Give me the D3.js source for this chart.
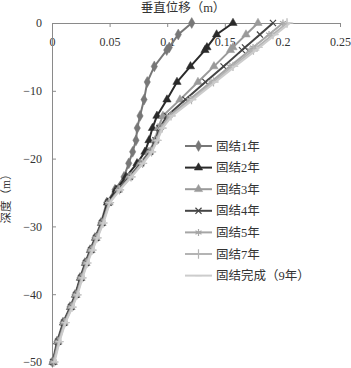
<!DOCTYPE html>
<html>
<head>
<meta charset="utf-8">
<script src="https://cdn.jsdelivr.net/npm/d3@7"></script>
<style>
  body { margin: 0; background: #fff; }
</style>
</head>
<body>
<script>
var depths = [0, -1.7, -3.6, -4.0, -6.4, -8.7, -11.3, -13.7, -15.5, -17.3, -19.0, -20.7, -22.7,
  -24.6, -26.5, -29.5, -31.7, -33.5, -35.4, -37.6, -40.1, -41.9, -44.2, -47.0, -50.0]

var names = ['固结1年', '固结2年', '固结3年', '固结4年', '固结5年', '固结7年', '固结完成（9年）']

var y1 = [0.1213, 0.1096, 0.1018, 0.0996, 0.0888, 0.0827, 0.0799, 0.0764, 0.0740, 0.0729, 0.0700, 0.0666, 0.0625,
  0.0547, 0.0475, 0.0425, 0.0373, 0.0330, 0.0286, 0.0243, 0.0200, 0.0156, 0.0095, 0.0043, 0.0004]
var y2 = [0.1571, 0.1429, 0.1345, 0.1328, 0.1202, 0.1085, 0.0998, 0.0911, 0.0872, 0.0842, 0.0807, 0.0738, 0.0642,
  0.0556, 0.0482, 0.0430, 0.0378, 0.0334, 0.0291, 0.0247, 0.0204, 0.0161, 0.0100, 0.0048, 0.0009]
var y3 = [0.1788, 0.1684, 0.1571, 0.1549, 0.1406, 0.1267, 0.1111, 0.0963, 0.0920, 0.0894, 0.0842, 0.0764, 0.0668,
  0.0577, 0.0495, 0.0434, 0.0382, 0.0339, 0.0295, 0.0252, 0.0208, 0.0165, 0.0104, 0.0052, 0.0009]
var y4 = [0.1918, 0.1805, 0.1675, 0.1649, 0.1489, 0.1332, 0.1159, 0.0998, 0.0933, 0.0898, 0.0851, 0.0773, 0.0673,
  0.0573, 0.0490, 0.0434, 0.0382, 0.0339, 0.0295, 0.0252, 0.0208, 0.0165, 0.0104, 0.0052, 0.0009]
var y5 = [0.2005, 0.1884, 0.1745, 0.1719, 0.1545, 0.1380, 0.1194, 0.1020, 0.0946, 0.0907, 0.0859, 0.0781, 0.0681,
  0.0582, 0.0495, 0.0438, 0.0386, 0.0343, 0.0299, 0.0256, 0.0213, 0.0169, 0.0109, 0.0056, 0.0013]
var y7 = [0.2040, 0.1918, 0.1779, 0.1749, 0.1571, 0.1402, 0.1211, 0.1033, 0.0955, 0.0911, 0.0864, 0.0786, 0.0686,
  0.0586, 0.0499, 0.0443, 0.0391, 0.0347, 0.0304, 0.0260, 0.0217, 0.0174, 0.0113, 0.0061, 0.0017]
var y9 = [0.2066, 0.1940, 0.1801, 0.1771, 0.1588, 0.1419, 0.1224, 0.1042, 0.0959, 0.0916, 0.0868, 0.0790, 0.0690,
  0.0590, 0.0503, 0.0447, 0.0395, 0.0352, 0.0308, 0.0265, 0.0221, 0.0178, 0.0117, 0.0065, 0.0022]

var xTicks = [0, 0.05, 0.1, 0.15, 0.2, 0.25]
var yTicks = [0, -10, -20, -30, -40, -50]

var seriesVals = [y1, y2, y3, y4, y5, y7, y9]
var colors = ['#777777', '#2a2a2a', '#9a9a9a', '#454545', '#a6a6a6', '#b4b4b4', '#cccccc']
var font = '"Liberation Serif", "DejaVu Serif", "Noto Sans CJK SC", serif'

// dash marker for the last series
var symbolDash = {draw: function(ctx, size){ var r = Math.sqrt(size) / 2; ctx.moveTo(-r, 0); ctx.lineTo(r, 0) }}
var symbols = [
  {type: d3.symbolDiamond, size: 34, fill: true},
  {type: d3.symbolTriangle, size: 30, fill: true},
  {type: d3.symbolTriangle, size: 30, fill: true},
  {type: d3.symbolTimes, size: 26, fill: false},
  {type: d3.symbolAsterisk, size: 34, fill: false},
  {type: d3.symbolPlus, size: 30, fill: false},
  {type: symbolDash, size: 44, fill: false}
]

var svg = d3.select('body').append('svg').attr('width', 351).attr('height', 368)

var x = d3.scaleLinear().domain([0, 0.25]).range([52, 340])
var y = d3.scaleLinear().domain([0, -50]).range([23, 362])

svg.append('g').attr('transform', 'translate(0,23)')
  .call(d3.axisBottom(x).tickValues(xTicks).tickSize(4).tickSizeOuter(0).tickPadding(10).tickFormat(d => d))
  .attr('font-family', font).attr('font-size', 12)
svg.append('g').attr('transform', 'translate(52,0)')
  .call(d3.axisLeft(y).tickValues(yTicks).tickSizeInner(-4).tickSizeOuter(0).tickPadding(10)
    .tickFormat(d => d === 0 ? '0' : '\u2212' + Math.abs(d)))
  .attr('font-family', font).attr('font-size', 12)

svg.selectAll('.domain, .tick line').attr('stroke', '#8a8a8a')
svg.selectAll('.tick text').attr('fill', '#333')

svg.append('text').attr('x', 183).attr('y', 12).attr('text-anchor', 'middle')
  .attr('font-family', font).attr('font-size', 12.5).attr('fill', '#333').text('垂直位移（m）')
svg.append('text').attr('transform', 'translate(10,196) rotate(-90)').attr('text-anchor', 'middle')
  .attr('font-family', font).attr('font-size', 11.5).attr('fill', '#333').text('深度（m）')

var line = d3.line().x(d => x(d[0])).y(d => y(d[1]))

seriesVals.forEach(function(vals, i){
  var pts = vals.map((v, j) => [v, depths[j]])
  var g = svg.append('g')
  g.append('path').attr('d', line(pts)).attr('fill', 'none')
    .attr('stroke', colors[i]).attr('stroke-width', 2)
  var s = symbols[i]
  g.selectAll('path.m').data(pts).enter().append('path').attr('class', 'm')
    .attr('transform', d => 'translate(' + x(d[0]) + ',' + y(d[1]) + ')')
    .attr('d', d3.symbol().type(s.type).size(s.size))
    .attr('fill', s.fill ? colors[i] : 'none')
    .attr('stroke', colors[i]).attr('stroke-width', s.fill ? 0.5 : 1.2)
})

// legend
var legend = svg.append('g')
names.forEach(function(n, i){
  var ly = 146 + i * 21.6
  var s = symbols[i]
  legend.append('line').attr('x1', 185).attr('x2', 212).attr('y1', ly).attr('y2', ly)
    .attr('stroke', colors[i]).attr('stroke-width', 2)
  legend.append('path').attr('transform', 'translate(198.5,' + ly + ')')
    .attr('d', d3.symbol().type(s.type).size(s.size))
    .attr('fill', s.fill ? colors[i] : 'none')
    .attr('stroke', colors[i]).attr('stroke-width', s.fill ? 0.5 : 1.2)
  legend.append('text').attr('x', 216).attr('y', ly + 4.5)
    .attr('font-family', font).attr('font-size', 12.5).attr('fill', '#333').text(n)
})
</script>
</body>
</html>
